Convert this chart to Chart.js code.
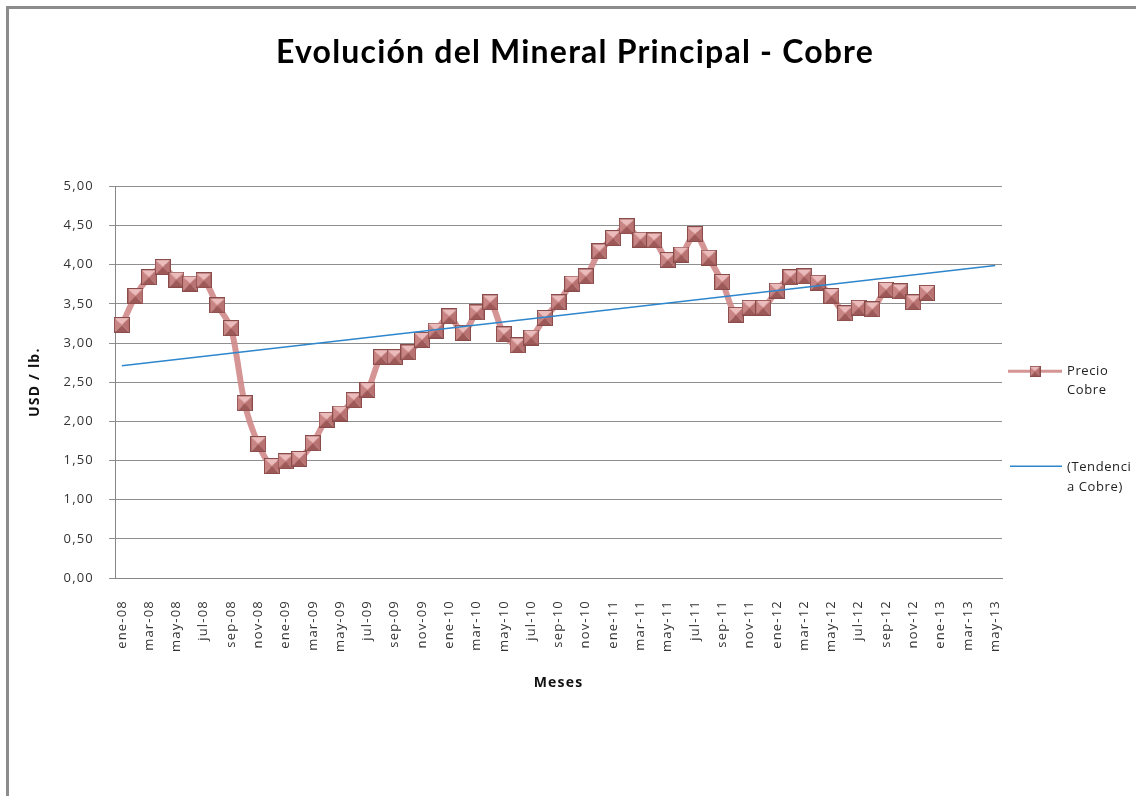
<!DOCTYPE html>
<html lang="es">
<head>
    <meta charset="UTF-8">
    <title>Evolución del Mineral Principal - Cobre</title>
    <script src="https://cdn.jsdelivr.net/npm/chart.js"></script>
    <style>
        body {
            margin: 0;
            padding: 0;
            background: #fff;
            overflow: hidden;
        }
        .marco {
            position: absolute;
            left: 6px;
            top: 6px;
            width: 1300px;
            height: 1000px;
            border-left: 3px solid #8c8c8c;
            border-top: 3px solid #8c8c8c;
        }
        #grafico {
            position: absolute;
            left: 0;
            top: 0;
        }
    </style>
</head>
<body>
    <div class="marco"></div>
    <canvas id="grafico" width="1136" height="796"></canvas>

    <script>
        // Meses (eje X)
        const meses = [
            'ene-08', 'feb-08', 'mar-08', 'abr-08', 'may-08', 'jun-08', 'jul-08', 'ago-08', 'sep-08', 'oct-08', 'nov-08', 'dic-08',
            'ene-09', 'feb-09', 'mar-09', 'abr-09', 'may-09', 'jun-09', 'jul-09', 'ago-09', 'sep-09', 'oct-09', 'nov-09', 'dic-09',
            'ene-10', 'feb-10', 'mar-10', 'abr-10', 'may-10', 'jun-10', 'jul-10', 'ago-10', 'sep-10', 'oct-10', 'nov-10', 'dic-10',
            'ene-11', 'feb-11', 'mar-11', 'abr-11', 'may-11', 'jun-11', 'jul-11', 'ago-11', 'sep-11', 'oct-11', 'nov-11', 'dic-11',
            'ene-12', 'feb-12', 'mar-12', 'abr-12', 'may-12', 'jun-12', 'jul-12', 'ago-12', 'sep-12', 'oct-12', 'nov-12', 'dic-12',
            'ene-13', 'feb-13', 'mar-13', 'abr-13', 'may-13'
        ];

        // Precio del cobre, USD/lb (ene-08 .. dic-12)
        const precioCobre = [
            3.23, 3.60, 3.84, 3.97, 3.81, 3.76, 3.80, 3.48, 3.19, 2.23, 1.71, 1.43,
            1.49, 1.52, 1.72, 2.02, 2.10, 2.27, 2.40, 2.82, 2.82, 2.88, 3.04, 3.16,
            3.34, 3.13, 3.39, 3.52, 3.11, 2.97, 3.07, 3.32, 3.52, 3.76, 3.85, 4.17,
            4.34, 4.49, 4.32, 4.31, 4.06, 4.13, 4.39, 4.09, 3.78, 3.36, 3.45, 3.45,
            3.67, 3.84, 3.85, 3.77, 3.60, 3.38, 3.45, 3.43, 3.68, 3.66, 3.52, 3.64
        ];

        // Línea de tendencia (extremos)
        const tendenciaMeses = ['ene-08', 'may-13'];
        const tendenciaCobre = [2.71, 3.99];

        const colorLinea = 'rgba(208, 138, 138, 0.9)';
        const colorTendencia = '#2e86cc';

        function marcador(size) {
            const c = document.createElement('canvas');
            c.width = size;
            c.height = size;
            const g = c.getContext('2d');
            const m = size / 2;
            const tri = (a, b, col) => {
                g.beginPath();
                g.moveTo(a[0], a[1]);
                g.lineTo(b[0], b[1]);
                g.lineTo(m, m);
                g.closePath();
                g.fillStyle = col;
                g.fill();
            };
            tri([0, 0], [size, 0], '#ebbcbb');
            tri([0, 0], [0, size], '#c98584');
            tri([size, 0], [size, size], '#b87271');
            tri([0, size], [size, size], '#9d5958');
            g.strokeStyle = '#8a4c4b';
            g.lineWidth = 1;
            g.strokeRect(0.5, 0.5, size - 1, size - 1);
            return c;
        }

        const puntoGrande = marcador(16);
        const puntoLeyenda = marcador(11);

        // Leyenda a la derecha + espaciado de letras tipo Excel
        const leyenda = {
            id: 'leyenda',
            beforeDraw(chart) {
                chart.ctx.letterSpacing = '1.2px';
            },
            afterDraw(chart) {
                const c = chart.ctx;
                const area = chart.chartArea;
                const x0 = area.right + 6;
                const yc = (area.top + area.bottom) / 2;
                const y1 = yc - 11;
                const y2 = yc + 84;
                c.save();
                c.lineCap = 'butt';
                c.strokeStyle = colorLinea;
                c.lineWidth = 3;
                c.beginPath();
                c.moveTo(x0, y1);
                c.lineTo(x0 + 54, y1);
                c.stroke();
                c.drawImage(puntoLeyenda, x0 + 27 - 5.5, y1 - 5.5);
                c.strokeStyle = colorTendencia;
                c.lineWidth = 1.5;
                c.beginPath();
                c.moveTo(x0 + 2, y2);
                c.lineTo(x0 + 54, y2);
                c.stroke();
                c.letterSpacing = '0.6px';
                c.fillStyle = '#222';
                c.font = '13px "Open Sans"';
                c.textBaseline = 'middle';
                c.textAlign = 'left';
                c.fillText('Precio', x0 + 59, y1);
                c.fillText('Cobre', x0 + 59, y1 + 19);
                c.fillText('(Tendenci', x0 + 59, y2 + 1);
                c.fillText('a Cobre)', x0 + 59, y2 + 21);
                c.restore();
                c.letterSpacing = '0px';
            }
        };

        Chart.defaults.font.family = '"Open Sans", sans-serif';

        const ctx = document.getElementById('grafico').getContext('2d');
        new Chart(ctx, {
            type: 'line',
            data: {
                labels: meses,
                datasets: [
                    {
                        label: 'Precio Cobre',
                        data: precioCobre,
                        borderColor: colorLinea,
                        borderWidth: 6,
                        tension: 0.3,
                        pointStyle: puntoGrande,
                        pointRadius: 8,
                        order: 1
                    },
                    {
                        label: '(Tendencia Cobre)',
                        data: tendenciaMeses.map((m, i) => ({ x: m, y: tendenciaCobre[i] })),
                        borderColor: colorTendencia,
                        borderWidth: 1.5,
                        pointRadius: 0,
                        tension: 0,
                        order: 0
                    }
                ]
            },
            options: {
                responsive: false,
                animation: false,
                layout: {
                    padding: { left: 14, right: 0, top: 0, bottom: 0 }
                },
                plugins: {
                    legend: { display: false },
                    tooltip: { enabled: false },
                    title: {
                        display: true,
                        text: 'Evolución del Mineral Principal - Cobre',
                        color: '#000',
                        font: { family: 'Lato', size: 32, weight: 'bold' },
                        padding: { top: 33, bottom: 115 }
                    }
                },
                scales: {
                    x: {
                        offset: true,
                        grid: { display: false, drawTicks: false },
                        border: { display: true, color: '#868686', width: 1 },
                        ticks: {
                            autoSkip: false,
                            maxRotation: 90,
                            minRotation: 90,
                            padding: 22,
                            color: '#333',
                            font: { size: 13 },
                            callback: function (v, i) {
                                return i % 2 === 0 ? this.getLabelForValue(v) : '';
                            }
                        },
                        title: {
                            display: true,
                            text: 'Meses',
                            color: '#111',
                            font: { size: 14, weight: 'bold' },
                            padding: { top: 0, bottom: 105 }
                        },
                        afterFit: s => { s.height = 218; }
                    },
                    y: {
                        min: 0,
                        max: 5,
                        grid: { color: '#8e8e8e', lineWidth: 1, tickLength: 6 },
                        border: { display: true, color: '#868686', width: 1 },
                        ticks: {
                            stepSize: 0.5,
                            padding: 15,
                            color: '#333',
                            font: { size: 13 },
                            callback: v => v.toFixed(2).replace('.', ',')
                        },
                        title: {
                            display: true,
                            text: 'USD / lb.',
                            color: '#111',
                            font: { size: 14, weight: 'bold' },
                            padding: { top: 13, bottom: 0 }
                        },
                        afterFit: s => { s.width = 101; }
                    },
                    derecha: {
                        position: 'right',
                        display: true,
                        grid: { display: false, drawTicks: false },
                        border: { display: false },
                        ticks: { display: false },
                        afterFit: s => { s.width = 134; }
                    }
                }
            },
            plugins: [leyenda]
        });
    </script>
</body>
</html>
